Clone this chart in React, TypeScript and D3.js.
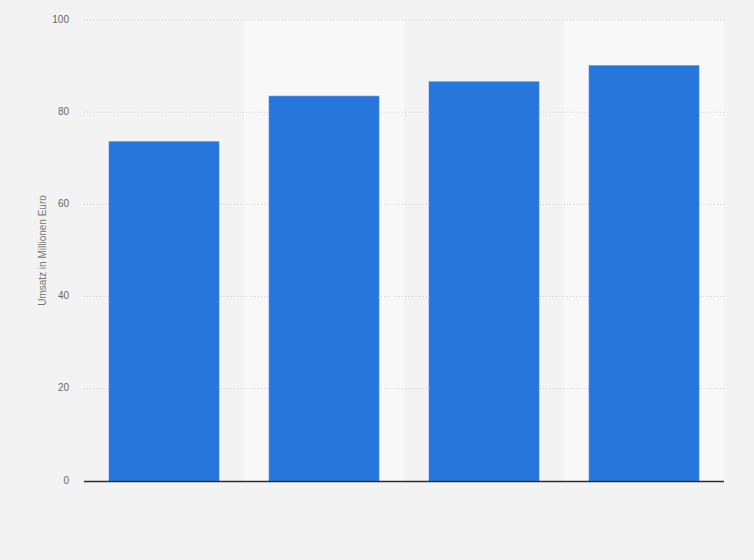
import * as d3 from "d3";

const categories = ["A", "B", "C", "D"];
const revenue = [73.6, 83.5, 86.6, 90.1];
const yTicks = [0, 20, 40, 60, 80, 100];
const yLabel = "Umsatz in Millionen Euro";

const W = 754;
const H = 560;
const margin = { top: 20, right: 30, bottom: 79, left: 84 };

export default function App() {
  const x = d3.scaleBand<string>()
    .domain(categories)
    .range([margin.left, W - margin.right])
    .paddingInner(0.3125)
    .paddingOuter(0.15625);

  const band = d3.scaleBand<string>()
    .domain(categories)
    .range([margin.left, W - margin.right]);

  const y = d3.scaleLinear()
    .domain([0, 100])
    .range([H - margin.bottom, margin.top]);

  return (
    <svg
      width={W}
      height={H}
      style={{ position: "absolute", left: 0, top: 0, fontFamily: "'Liberation Sans', Arial, sans-serif" }}
    >
      <rect x={0} y={0} width={W} height={H} fill="#f3f3f3" />
      {categories.map((c, i) =>
        i % 2 === 1 ? (
          <rect
            key={"bg" + c}
            x={band(c)}
            y={y(100)}
            width={band.bandwidth()}
            height={y(0) - y(100)}
            fill="#f8f8f8"
          />
        ) : null
      )}
      {yTicks.filter((t) => t > 0).map((t) => (
        <line
          key={"g" + t}
          x1={margin.left}
          x2={W - margin.right}
          y1={y(t)}
          y2={y(t)}
          stroke="#cfcfcf"
          strokeWidth={1}
          strokeDasharray="1,2"
        />
      ))}
      {yTicks.map((t) => (
        <text
          key={"t" + t}
          x={69}
          y={y(t)}
          textAnchor="end"
          dominantBaseline="middle"
          fontSize={10}
          fill="#666"
        >
          {t}
        </text>
      ))}
      <text
        transform={`translate(46,${(y(0) + y(100)) / 2}) rotate(-90)`}
        textAnchor="middle"
        fontSize={10}
        fill="#777"
      >
        {yLabel}
      </text>
      {categories.map((c, i) => (
        <rect
          key={"b" + c}
          x={x(c)}
          y={y(revenue[i])}
          width={x.bandwidth()}
          height={y(0) - y(revenue[i])}
          fill="#2776db"
          stroke="#4b8ee6"
          strokeWidth={0.6}
        />
      ))}
      <line
        x1={margin.left}
        x2={W - margin.right}
        y1={y(0) + 0.5}
        y2={y(0) + 0.5}
        stroke="#2b2b2b"
        strokeWidth={1.5}
      />
    </svg>
  );
}
